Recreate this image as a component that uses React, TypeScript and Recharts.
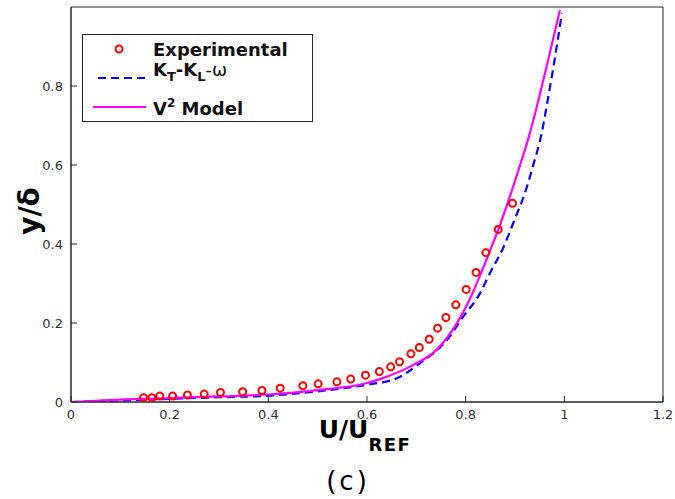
import React from 'react';
import {
  ComposedChart,
  Line,
  Scatter,
  XAxis,
  YAxis,
  Legend,
  ReferenceArea,
} from 'recharts';

const expU = [
  0.147, 0.164, 0.18, 0.206, 0.236, 0.27, 0.303, 0.348, 0.387, 0.424, 0.47, 0.501, 0.539, 0.567,
  0.597, 0.625, 0.648, 0.666, 0.689, 0.706, 0.726, 0.743, 0.76, 0.78, 0.801, 0.821, 0.841, 0.866,
  0.895,
];
const expY = [
  0.011, 0.011, 0.015, 0.015, 0.018, 0.02, 0.024, 0.026, 0.029, 0.035, 0.041, 0.046, 0.051, 0.058,
  0.068, 0.077, 0.089, 0.102, 0.122, 0.138, 0.159, 0.187, 0.214, 0.246, 0.285, 0.328, 0.378, 0.437,
  0.503,
];

const ktU = [
  0, 0.05, 0.1, 0.2, 0.3, 0.4, 0.5, 0.6, 0.66, 0.707, 0.762, 0.795, 0.829, 0.849, 0.876, 0.897,
  0.923, 0.937, 0.954, 0.964, 0.978, 0.995,
];
const ktY = [
  0, 0.002, 0.004, 0.008, 0.012, 0.016, 0.027, 0.044, 0.06, 0.098, 0.157, 0.216, 0.275, 0.326, 0.39,
  0.455, 0.54, 0.6, 0.68, 0.748, 0.849, 0.984,
];

const v2U = [
  0, 0.05, 0.1, 0.2, 0.3, 0.4, 0.5, 0.6, 0.626, 0.694, 0.741, 0.782, 0.809, 0.829, 0.85, 0.87, 0.9,
  0.93, 0.964, 0.991,
];
const v2Y = [
  0, 0.003, 0.006, 0.01, 0.014, 0.019, 0.03, 0.048, 0.058, 0.094, 0.132, 0.199, 0.262, 0.32, 0.385,
  0.45, 0.56, 0.68, 0.849, 0.992,
];

const xTicks = [0, 0.2, 0.4, 0.6, 0.8, 1, 1.2];
const yTicks = [0, 0.2, 0.4, 0.6, 0.8];

const toPoints = (u: number[], y: number[]) => u.map((v, i) => ({ u: v, y: y[i] }));

const experimental = toPoints(expU, expY);
const ktkl = toPoints(ktU, ktY);
const v2 = toPoints(v2U, v2Y);

const axisColor = '#262626';
const tickFont = { fontFamily: 'DejaVu Sans', fontSize: 13, fill: '#333' };

const LegendBox = () => (
  <div
    style={{
      width: 229,
      height: 86,
      border: `1px solid ${axisColor}`,
      background: '#fff',
    }}
  >
    <svg width={229} height={86} style={{ display: 'block' }}>
      <g fontFamily="DejaVu Sans" fontWeight="bold" fontSize={18} fill="#111">
        <circle cx={36} cy={14} r={3.5} fill="none" stroke="#ff0000" strokeWidth={2} />
        <text x={70} y={21}>Experimental</text>

        <line x1={15} y1={43} x2={63} y2={43} stroke="#0000ff" strokeWidth={2} strokeDasharray="8 5" />
        <text x={70} y={41}>
          K<tspan fontSize={13} dy={5}>T</tspan>
          <tspan dy={-5}>-K</tspan>
          <tspan fontSize={13} dy={5}>L</tspan>
          <tspan dy={-5} fontWeight="normal">-ω</tspan>
        </text>

        <line x1={10} y1={72} x2={63} y2={72} stroke="#ff00ff" strokeWidth={2} />
        <text x={70} y={80}>
          V<tspan fontSize={12} dy={-8}>2</tspan>
          <tspan dy={8}> Model</tspan>
        </text>
      </g>
    </svg>
  </div>
);

export default function App() {
  return (
    <div style={{ position: 'absolute', left: 0, top: 0, width: 675, height: 499, background: '#fff' }}>
      <ComposedChart width={675} height={499} margin={{ top: 7, right: 12, left: 0, bottom: 0 }}>
        <XAxis
          dataKey="u"
          type="number"
          domain={[0, 1.2]}
          ticks={xTicks}
          allowDataOverflow
          height={97}
          tickSize={-6}
          tickMargin={14}
          stroke={axisColor}
          tick={tickFont}
          tickFormatter={(v: number) => String(v)}
        />
        <XAxis
          xAxisId="top"
          orientation="top"
          dataKey="u"
          type="number"
          domain={[0, 1.2]}
          ticks={xTicks}
          allowDataOverflow
          height={0}
          tickSize={-6}
          tick={false}
          stroke={axisColor}
        />
        <YAxis
          dataKey="y"
          type="number"
          domain={[0, 1]}
          ticks={yTicks}
          allowDataOverflow
          width={71}
          tickSize={-6}
          tickMargin={14}
          stroke={axisColor}
          tick={tickFont}
          tickFormatter={(v: number) => String(v)}
        />
        <YAxis
          yAxisId="right"
          orientation="right"
          dataKey="y"
          type="number"
          domain={[0, 1]}
          ticks={yTicks}
          allowDataOverflow
          width={0}
          tickSize={-6}
          tick={false}
          stroke={axisColor}
        />
        <ReferenceArea x1={0} x2={1.2} y1={0} y2={1} fill="none" stroke={axisColor} strokeWidth={1} />
        <Scatter
          data={experimental}
          dataKey="y"
          xAxisId="top"
          yAxisId="right"
          shape={() => <g />}
          isAnimationActive={false}
          legendType="none"
        />
        <Line
          data={ktkl}
          dataKey="y"
          type="monotone"
          stroke="#0000ff"
          strokeWidth={2.2}
          strokeDasharray="8 5"
          dot={false}
          isAnimationActive={false}
          name="KT-KL-ω"
        />
        <Line
          data={v2}
          dataKey="y"
          type="monotone"
          stroke="#ff00ff"
          strokeWidth={2.2}
          dot={false}
          isAnimationActive={false}
          name="V2 Model"
        />
        <Scatter
          data={experimental}
          dataKey="y"
          fill="none"
          stroke="#ff0000"
          strokeWidth={2}
          shape={(p: any) => (
            <circle cx={p.cx} cy={p.cy} r={3.5} fill="none" stroke="#ff0000" strokeWidth={2} />
          )}
          isAnimationActive={false}
          name="Experimental"
        />
        <Legend
          layout="vertical"
          align="center"
          verticalAlign="middle"
          wrapperStyle={{ position: 'absolute', left: 82, top: 34, width: 'auto' }}
          content={() => <LegendBox />}
        />
        <text
          x={365}
          y={438}
          textAnchor="middle"
          fontFamily="DejaVu Sans"
          fontWeight="bold"
          fontSize={25}
          fill="#000"
        >
          U/U
          <tspan fontSize={18} dy={13} letterSpacing={1.5}>REF</tspan>
        </text>
        <text
          x={348}
          y={490}
          textAnchor="middle"
          fontFamily="DejaVu Sans"
          fontSize={26}
          letterSpacing={3}
          fill="#000"
        >
          (c)
        </text>
        <text
          x={39}
          y={211}
          textAnchor="middle"
          transform="rotate(-90 39 211)"
          fontFamily="DejaVu Sans"
          fontWeight="bold"
          fontSize={28}
          fill="#000"
        >
          y/δ
        </text>
      </ComposedChart>
    </div>
  );
}
